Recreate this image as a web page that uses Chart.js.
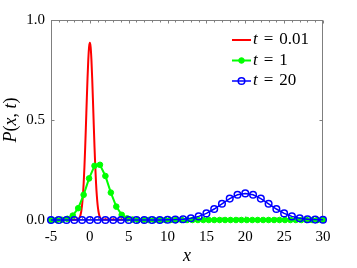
<!DOCTYPE html>
<html>
<head>
<meta charset="utf-8">
<script src="https://cdn.jsdelivr.net/npm/chart.js@4.4.0/dist/chart.umd.min.js"></script>
<style>
html, body { margin: 0; padding: 0; background: #fff; }
</style>
</head>
<body>
<canvas id="chart" width="357" height="268"></canvas>
<script>
// t = 0.01 (smooth curve, no markers)
var redX = [-5, -1.5, -1.4, -1.3, -1.2, -1.1, -1.0, -0.9, -0.8, -0.7, -0.6, -0.5, -0.4, -0.3, -0.2, -0.1, 0,
            0.1, 0.2, 0.3, 0.4, 0.5, 0.6, 0.7, 0.8, 0.9, 1.0, 1.1, 1.2, 1.3, 1.4, 1.5, 30];
var redY = [0, 0.003, 0.007, 0.014, 0.025, 0.045, 0.075, 0.120, 0.182, 0.264, 0.364, 0.478, 0.597, 0.709, 0.803, 0.865, 0.886,
            0.865, 0.803, 0.709, 0.597, 0.478, 0.364, 0.264, 0.182, 0.120, 0.075, 0.045, 0.025, 0.014, 0.007, 0.003, 0];

// t = 1
var greenX = [-5, -4.3, -3.6, -2.9, -2.2, -1.5, -0.8, -0.1, 0.6, 1.3, 2, 2.7, 3.4, 4.1, 4.8, 5.5, 6.2,
              6.9, 7.6, 8.3, 9, 9.7, 10.4, 11.1, 11.8, 12.5, 13.2, 13.9, 14.6, 15.3, 16, 16.7, 17.4,
              18.1, 18.8, 19.5, 20.2, 20.9, 21.6, 22.3, 23, 23.7, 24.4, 25.1, 25.8, 26.5, 27.2, 27.9, 28.6, 29.3, 30];
var greenY = [0, 0, 0.001, 0.006, 0.022, 0.059, 0.126, 0.208, 0.271, 0.276, 0.220, 0.137, 0.067, 0.026, 0.008, 0.002, 0,
              0, 0, 0, 0, 0, 0, 0, 0, 0, 0, 0, 0, 0, 0, 0, 0,
              0, 0, 0, 0, 0, 0, 0, 0, 0, 0, 0, 0, 0, 0, 0, 0, 0, 0];

// t = 20
var blueX = [-5, -4, -3, -2, -1, 0, 1, 2, 3, 4, 5, 6, 7, 8, 9, 10, 11, 12, 13, 14, 15, 16, 17, 18,
             19, 20, 21, 22, 23, 24, 25, 26, 27, 28, 29, 30];
var blueY = [0, 0, 0, 0, 0, 0, 0, 0, 0, 0, 0, 0, 0, 0, 0, 0.001, 0.002, 0.004, 0.009, 0.018, 0.033, 0.055, 0.081, 0.107,
             0.126, 0.133, 0.126, 0.107, 0.081, 0.055, 0.033, 0.018, 0.009, 0.004, 0.002, 0.001];

var xTicks = [-5, 0, 5, 10, 15, 20, 25, 30];
var yTicks = [0, 0.5, 1];
var seriesNames = ['0.01', '1', '20'];

function pts(xs, ys) {
	var out = [];
	for (var i = 0; i < xs.length; i++) out.push({x: xs[i], y: ys[i]});
	return out;
}

var SERIF = '"Liberation Serif", "Times New Roman", serif';
var AXIS = '#7f7f7f';

var framePlugin = {
	id: 'frame',
	beforeDatasetsDraw: function(chart) {
		var c = chart.ctx, a = chart.chartArea;
		var xs = chart.scales.x, ys = chart.scales.y;
		var l = Math.round(a.left) + 0.5, r = Math.round(a.right) - 0.5;
		var t = Math.round(a.top) + 0.5, b = Math.round(a.bottom) - 0.5;
		c.save();
		c.strokeStyle = AXIS;
		c.lineWidth = 1;
		c.strokeRect(l, t, r - l, b - t);
		c.beginPath();
		for (var v = -5; v <= 30; v++) {
			var px = Math.round(xs.getPixelForValue(v)) + 0.5;
			var len = (v % 5 === 0) ? 3 : 2;
			c.moveTo(px, t); c.lineTo(px, t + len);
			c.moveTo(px, b); c.lineTo(px, b - len);
		}
		for (var k = 0; k < yTicks.length; k++) {
			var py = Math.round(ys.getPixelForValue(yTicks[k])) + 0.5;
			c.moveTo(l, py); c.lineTo(l + 3, py);
			c.moveTo(r, py); c.lineTo(r - 3, py);
		}
		c.stroke();
		c.restore();
	},
	afterDraw: function(chart) {
		var c = chart.ctx, a = chart.chartArea;
		c.save();
		c.fillStyle = '#000';
		c.textBaseline = 'middle';

		// x axis title
		c.font = 'italic 18px ' + SERIF;
		c.textAlign = 'center';
		c.fillText('x', (a.left + a.right) / 2, 256);

		// y axis title P(x, t)
		c.translate(11, (a.top + a.bottom) / 2);
		c.rotate(-Math.PI / 2);
		var parts = [['P', 1], ['(', 0], ['x', 1], [', ', 0], ['t', 1], [')', 0]];
		var w = 0, i;
		for (i = 0; i < parts.length; i++) {
			c.font = (parts[i][1] ? 'italic ' : '') + '18px ' + SERIF;
			w += c.measureText(parts[i][0]).width;
		}
		var x0 = -w / 2;
		c.textAlign = 'left';
		for (i = 0; i < parts.length; i++) {
			c.font = (parts[i][1] ? 'italic ' : '') + '18px ' + SERIF;
			c.fillText(parts[i][0], x0, 0);
			x0 += c.measureText(parts[i][0]).width;
		}
		c.setTransform(1, 0, 0, 1, 0, 0);

		// legend
		var ds = chart.data.datasets;
		for (i = 0; i < ds.length; i++) {
			var y = 40 + i * 20.5;
			c.strokeStyle = ds[i].borderColor;
			c.lineWidth = ds[i].borderWidth;
			c.beginPath(); c.moveTo(232, y); c.lineTo(251, y); c.stroke();
			if (ds[i].pointRadius > 0) {
				c.beginPath();
				c.arc(241.5, y, ds[i].pointRadius, 0, Math.PI * 2);
				c.fillStyle = ds[i].pointBackgroundColor;
				c.fill();
				c.lineWidth = ds[i].pointBorderWidth;
				c.strokeStyle = ds[i].pointBorderColor;
				c.stroke();
			}
			c.fillStyle = '#000';
			c.font = 'italic 17px ' + SERIF;
			c.fillText('t', 253, y);
			var tx = 253 + c.measureText('t').width + 6;
			c.font = '17px ' + SERIF;
			c.fillText('=', tx, y);
			tx += c.measureText('=').width + 6;
			c.fillText(seriesNames[i], tx, y);
		}
		c.restore();
	}
};

var ctx = document.getElementById('chart');
var chart = new Chart(ctx, {
	type: 'line',
	data: {
		datasets: [
			{
				label: 't = 0.01',
				data: pts(redX, redY),
				borderColor: '#ff0000',
				backgroundColor: '#ff0000',
				borderWidth: 2,
				pointRadius: 0,
				// monotone avoids the fast path that merges points in the same pixel column
				cubicInterpolationMode: 'monotone',
				order: 3
			},
			{
				label: 't = 1',
				data: pts(greenX, greenY),
				borderColor: '#00ff00',
				backgroundColor: '#00ff00',
				borderWidth: 2,
				pointRadius: 2.8,
				pointBackgroundColor: '#00ff00',
				pointBorderColor: '#00ff00',
				pointBorderWidth: 1,
				tension: 0,
				order: 2
			},
			{
				label: 't = 20',
				data: pts(blueX, blueY),
				borderColor: '#0000ff',
				backgroundColor: '#0000ff',
				borderWidth: 1.5,
				pointRadius: 3.3,
				pointBackgroundColor: 'rgba(255,255,255,0)',
				pointBorderColor: '#0000ff',
				pointBorderWidth: 1.5,
				tension: 0,
				order: 1
			}
		]
	},
	options: {
		responsive: false,
		animation: false,
		clip: false,
		layout: { padding: { left: 0, right: 34, top: 20, bottom: 0 } },
		plugins: {
			legend: { display: false },
			tooltip: { enabled: false }
		},
		scales: {
			x: {
				type: 'linear',
				min: -5,
				max: 30,
				afterBuildTicks: function(scale) {
					scale.ticks = xTicks.map(function(v) { return {value: v}; });
				},
				afterFit: function(scale) { scale.height = 48; },
				grid: { display: false, drawTicks: false },
				border: { display: false },
				ticks: {
					padding: 8,
					color: '#000',
					maxRotation: 0,
					font: { family: SERIF, size: 15 },
					callback: function(v) { return String(v); }
				}
			},
			y: {
				type: 'linear',
				min: 0,
				max: 1,
				afterBuildTicks: function(scale) {
					scale.ticks = yTicks.map(function(v) { return {value: v}; });
				},
				afterFit: function(scale) { scale.width = 51; },
				grid: { display: false, drawTicks: false },
				border: { display: false },
				ticks: {
					padding: 6,
					color: '#000',
					font: { family: SERIF, size: 15 },
					callback: function(v) { return v.toFixed(1); }
				}
			}
		}
	},
	plugins: [framePlugin]
});
</script>
</body>
</html>
